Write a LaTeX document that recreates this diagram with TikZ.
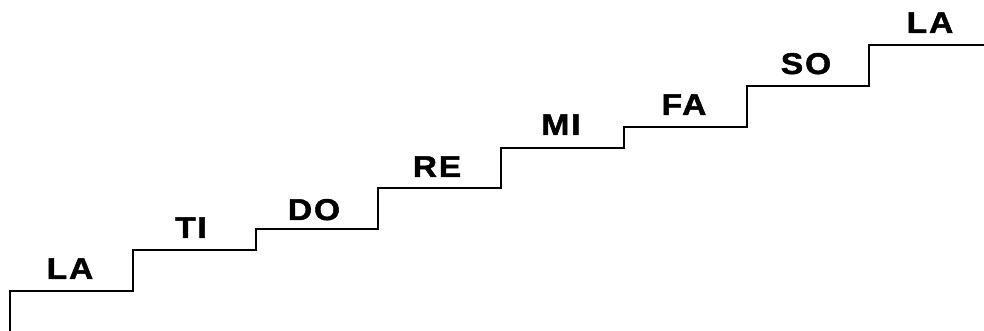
\documentclass[tikz,border=0pt]{standalone}
\usepackage{fontspec}
\usepackage{tikz}
\newfontfamily\stepfont[FakeStretch=1.12,LetterSpace=6,FakeBold=1.6]{Liberation Sans Bold}
\tikzset{
  notename/.style={anchor=base,inner sep=0pt,font=\stepfont\fontsize{22.5}{22.5}\selectfont},
  stairline/.style={line width=1.8pt,line join=miter}
}

\begin{document}
\begin{tikzpicture}[x=0.75pt,y=0.75pt]
% Fix the page size
\useasboundingbox (0,0) rectangle (984,331);
% Draw the staircase (whole and half steps)
\draw[stairline] (10,0) -- (10,40) -- (133,40) -- (133,81) -- (256,81) -- (256,102)
  -- (378,102) -- (378,143) -- (501,143) -- (501,183) -- (624,183) -- (624,204)
  -- (747,204) -- (747,245) -- (869,245) -- (869,286) -- (984,286);
% Labels
\node[notename] (la1) at (70,52) {LA};
\node[notename] (ti) at (191,93) {TI};
\node[notename] (do) at (314,111) {DO};
\node[notename] (re) at (437,154) {RE};
\node[notename] (mi) at (561,196) {MI};
\node[notename] (fa) at (684,216) {FA};
\node[notename] (so) at (806,257) {SO};
\node[notename] (la2) at (930,298) {LA};
\end{tikzpicture}
\end{document}
